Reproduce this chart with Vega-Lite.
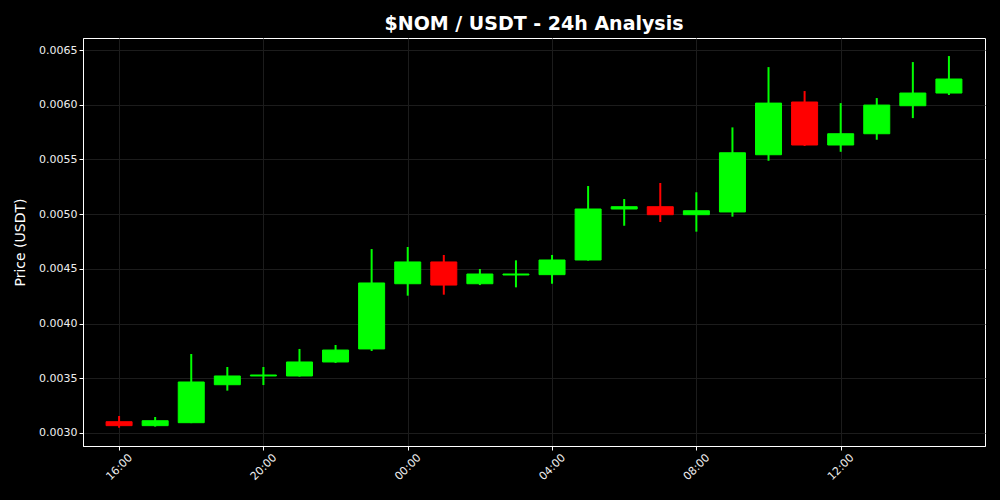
{
  "$schema": "https://vega.github.io/schema/vega-lite/v6.json",
  "width": 902,
  "height": 408,
  "autosize": {"type": "none"},
  "padding": {"left": 83, "top": 38, "right": 15, "bottom": 54},
  "background": "#000000",
  "title": {"text": "$NOM / USDT - 24h Analysis", "color": "#ffffff", "font": "DejaVu Sans", "fontSize": 19, "fontWeight": "bold", "anchor": "middle", "offset": 4},
  "config": {
    "view": {"stroke": "#ffffff", "strokeWidth": 1, "fill": "#000000"},
    "axis": {"labelFont": "DejaVu Sans", "titleFont": "DejaVu Sans", "labelColor": "#eeeeee", "titleColor": "#ffffff", "tickColor": "#ffffff", "domainColor": "#ffffff", "gridColor": "#1c1c1c", "gridOpacity": 1, "labelFontSize": 11, "titleFontSize": 14, "titleFontWeight": "normal", "tickSize": 4}
  },
  "data": {"values": [
    {"time": "2024-01-01T16:00:00", "open": 0.003103, "high": 0.003155, "low": 0.003048, "close": 0.003067},
    {"time": "2024-01-01T17:00:00", "open": 0.003067, "high": 0.003146, "low": 0.003058, "close": 0.003112},
    {"time": "2024-01-01T18:00:00", "open": 0.003094, "high": 0.003722, "low": 0.003090, "close": 0.003466},
    {"time": "2024-01-01T19:00:00", "open": 0.003441, "high": 0.003603, "low": 0.003387, "close": 0.003521},
    {"time": "2024-01-01T20:00:00", "open": 0.003521, "high": 0.003603, "low": 0.003438, "close": 0.003530},
    {"time": "2024-01-01T21:00:00", "open": 0.003521, "high": 0.003768, "low": 0.003515, "close": 0.003649},
    {"time": "2024-01-01T22:00:00", "open": 0.003649, "high": 0.003804, "low": 0.003640, "close": 0.003758},
    {"time": "2024-01-01T23:00:00", "open": 0.003768, "high": 0.004681, "low": 0.003749, "close": 0.004371},
    {"time": "2024-01-02T00:00:00", "open": 0.004364, "high": 0.004700, "low": 0.004255, "close": 0.004563},
    {"time": "2024-01-02T01:00:00", "open": 0.004563, "high": 0.004627, "low": 0.004264, "close": 0.004352},
    {"time": "2024-01-02T02:00:00", "open": 0.004364, "high": 0.004499, "low": 0.004352, "close": 0.004453},
    {"time": "2024-01-02T03:00:00", "open": 0.004444, "high": 0.004578, "low": 0.004331, "close": 0.004453},
    {"time": "2024-01-02T04:00:00", "open": 0.004447, "high": 0.004627, "low": 0.004364, "close": 0.004581},
    {"time": "2024-01-02T05:00:00", "open": 0.004581, "high": 0.005257, "low": 0.004575, "close": 0.005047},
    {"time": "2024-01-02T06:00:00", "open": 0.005047, "high": 0.005138, "low": 0.004894, "close": 0.005068},
    {"time": "2024-01-02T07:00:00", "open": 0.005068, "high": 0.005285, "low": 0.004928, "close": 0.004995},
    {"time": "2024-01-02T08:00:00", "open": 0.004995, "high": 0.005200, "low": 0.004840, "close": 0.005031},
    {"time": "2024-01-02T09:00:00", "open": 0.005020, "high": 0.005793, "low": 0.004977, "close": 0.005561},
    {"time": "2024-01-02T10:00:00", "open": 0.005543, "high": 0.006344, "low": 0.005488, "close": 0.006015},
    {"time": "2024-01-02T11:00:00", "open": 0.006025, "high": 0.006125, "low": 0.005623, "close": 0.005632},
    {"time": "2024-01-02T12:00:00", "open": 0.005632, "high": 0.006015, "low": 0.005570, "close": 0.005735},
    {"time": "2024-01-02T13:00:00", "open": 0.005735, "high": 0.006061, "low": 0.005680, "close": 0.005997},
    {"time": "2024-01-02T14:00:00", "open": 0.005991, "high": 0.006390, "low": 0.005878, "close": 0.006107},
    {"time": "2024-01-02T15:00:00", "open": 0.006107, "high": 0.006445, "low": 0.006089, "close": 0.006235}
  ]},
  "encoding": {
    "x": {
      "field": "time", "type": "temporal",
      "scale": {"domain": [{"year": 2024, "month": 1, "date": 1, "hours": 15}, {"year": 2024, "month": 1, "date": 2, "hours": 16}], "padding": 0},
      "axis": {
        "title": null, "format": "%H:%M", "labelAngle": -45, "labelAlign": "center", "labelBaseline": "middle", "labelFontSize": 11, "labelPadding": 17,
        "values": [
          {"year": 2024, "month": 1, "date": 1, "hours": 16},
          {"year": 2024, "month": 1, "date": 1, "hours": 20},
          {"year": 2024, "month": 1, "date": 2, "hours": 0},
          {"year": 2024, "month": 1, "date": 2, "hours": 4},
          {"year": 2024, "month": 1, "date": 2, "hours": 8},
          {"year": 2024, "month": 1, "date": 2, "hours": 12}
        ]
      }
    },
    "color": {"condition": {"test": "datum.close >= datum.open", "value": "#00ff00"}, "value": "#ff0000"}
  },
  "layer": [
    {
      "mark": {"type": "rule", "strokeWidth": 2},
      "encoding": {
        "y": {
          "field": "low", "type": "quantitative",
          "scale": {"domain": [0.002881, 0.00661], "nice": false, "zero": false},
          "axis": {"title": "Price (USDT)", "format": ".4f", "values": [0.003, 0.0035, 0.004, 0.0045, 0.005, 0.0055, 0.006, 0.0065], "titlePadding": 11}
        },
        "y2": {"field": "high"}
      }
    },
    {
      "mark": {"type": "bar", "size": 26, "strokeWidth": 1},
      "encoding": {
        "y": {"field": "open", "type": "quantitative"},
        "y2": {"field": "close"},
        "stroke": {"condition": {"test": "datum.close >= datum.open", "value": "#00ff00"}, "value": "#ff0000"}
      }
    }
  ]
}
